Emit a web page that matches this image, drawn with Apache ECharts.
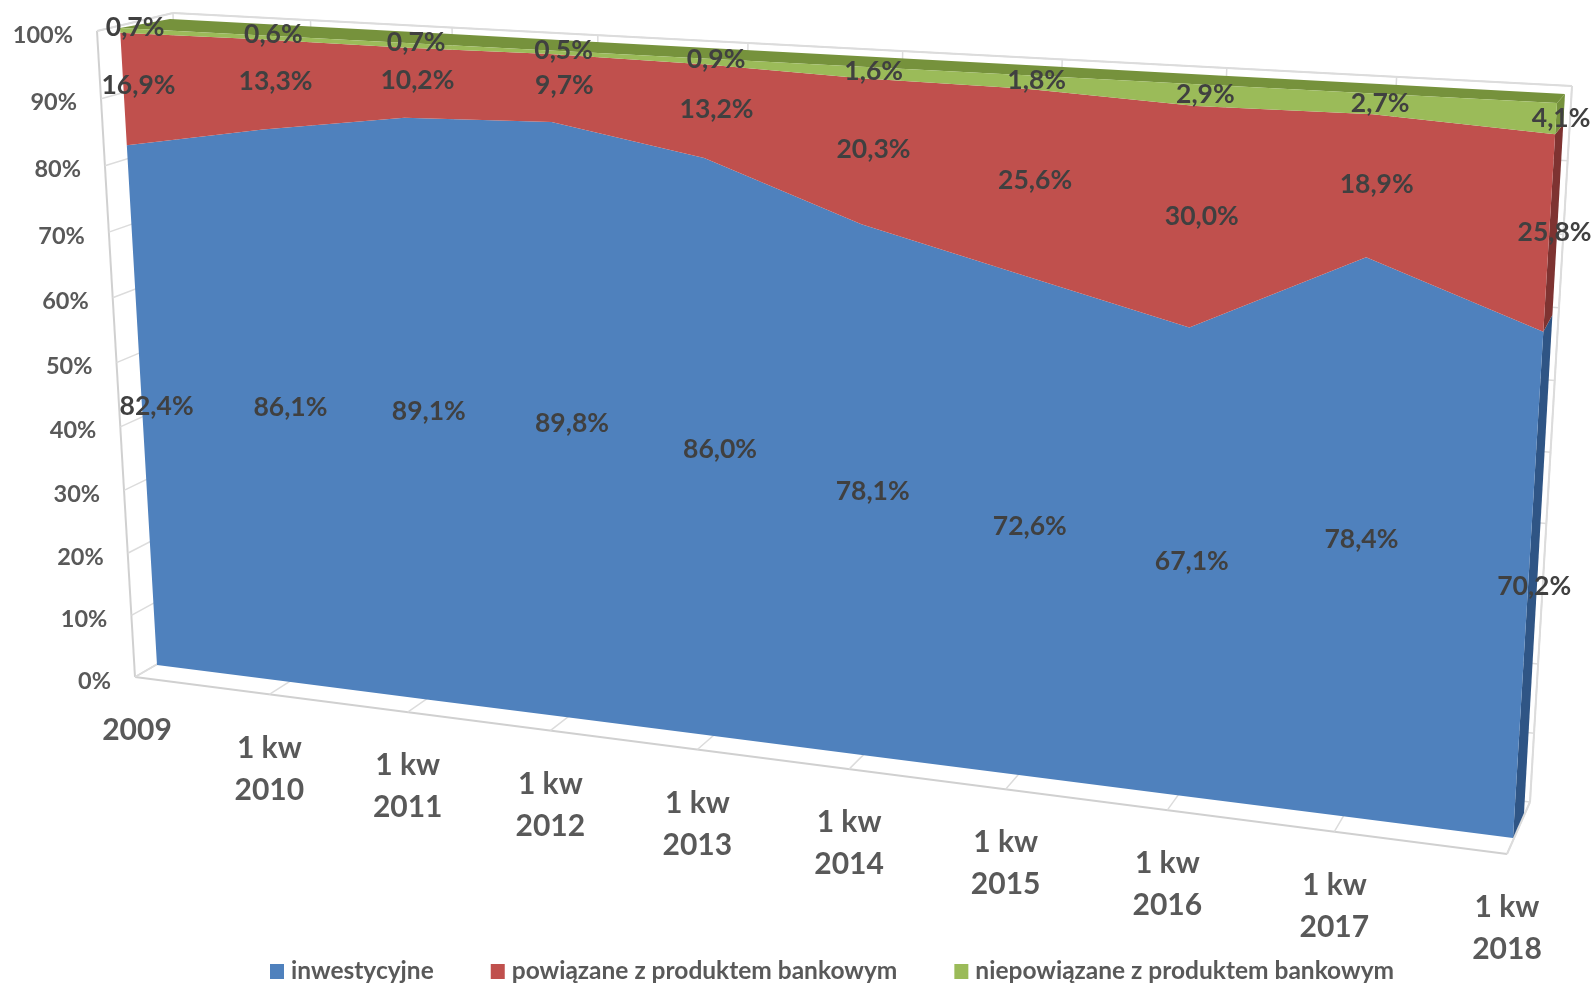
<!DOCTYPE html>
<html>
<head>
<meta charset="utf-8">
<title>Struktura</title>
<script src="https://cdn.jsdelivr.net/npm/echarts@6/dist/echarts.min.js"></script>
<style>
  html, body { margin: 0; background: #fff; }
  #chart { width: 1593px; height: 983px; }
</style>
</head>
<body>
<div id="chart"></div>
<script>
const categories = ['2009', '1 kw\n2010', '1 kw\n2011', '1 kw\n2012', '1 kw\n2013', '1 kw\n2014', '1 kw\n2015', '1 kw\n2016', '1 kw\n2017', '1 kw\n2018']
const inwestycyjne = [82.4, 86.1, 89.1, 89.8, 86.0, 78.1, 72.6, 67.1, 78.4, 70.2]
const powiazane = [16.9, 13.3, 10.2, 9.7, 13.2, 20.3, 25.6, 30.0, 18.9, 25.8]
const niepowiazane = [0.7, 0.6, 0.7, 0.5, 0.9, 1.6, 1.8, 2.9, 2.7, 4.1]
const yTicks = [0, 10, 20, 30, 40, 50, 60, 70, 80, 90, 100]

const W = 1593
const H = 983
const LABEL_FONT = 'Lato, Carlito, sans-serif'
const last = categories.length - 1

// the 3D look: each plane of the box is a perspective warp of the flat grid [TL, TR, BR, BL]
const wallFront = homography([97, 31], [1550, 115], [1507, 854], [135, 677])
const wallBack = homography([173, 13], [1572, 86], [1530, 802], [192, 644])
const areaFront = homography([120, 28], [1557, 103], [1513, 838], [157, 665])
const areaBack = homography([170, 19], [1565, 94], [1524, 813], [188, 648])
const labelPlane = homography([135, 25], [1562, 103], [1520, 832], [171, 660])

function homography(p0, p1, p2, p3) {
  const dx1 = p1[0] - p2[0], dx2 = p3[0] - p2[0], sx = p0[0] - p1[0] + p2[0] - p3[0]
  const dy1 = p1[1] - p2[1], dy2 = p3[1] - p2[1], sy = p0[1] - p1[1] + p2[1] - p3[1]
  const den = dx1 * dy2 - dx2 * dy1
  const g = (sx * dy2 - dx2 * sy) / den
  const h = (dx1 * sy - sx * dy1) / den
  const a = p1[0] - p0[0] + g * p1[0], b = p3[0] - p0[0] + h * p3[0], c = p0[0]
  const d = p1[1] - p0[1] + g * p1[1], e = p3[1] - p0[1] + h * p3[1], f = p0[1]
  return (u, v) => {
    const w = g * u + h * v + 1
    return [(a * u + b * v + c) / w, (d * u + e * v + f) / w]
  }
}

// axes scale first, then the plane warps the scaled point
function project(api, plane, i, value) {
  const p = api.coord([i, Math.min(value, 100)])
  return plane(p[0] / W, p[1] / H)
}

function line(a, b, width, color) {
  return {
    type: 'line',
    shape: { x1: a[0], y1: a[1], x2: b[0], y2: b[1] },
    style: { stroke: color || '#dcdcdc', lineWidth: width || 1.5 }
  }
}

function text(str, x, y, size, fill, align, lineHeight) {
  return {
    type: 'text',
    style: {
      text: str, x, y, fill,
      align: align || 'center',
      verticalAlign: lineHeight ? 'top' : 'middle',
      lineHeight,
      fontFamily: LABEL_FONT,
      fontWeight: 'bold',
      fontSize: size
    }
  }
}

function renderFrame(params, api) {
  const i = api.value(0)
  const children = [
    line(project(api, wallBack, i, 0), project(api, wallBack, i, 100)),
    line(project(api, wallFront, i, 0), project(api, wallBack, i, 0))
  ]
  const tick = project(api, wallFront, i, 0)
  children.push(text(categories[i], tick[0] + (i === 0 ? 2 : 0), tick[1] + 32.5, 30, '#595959', 'center', 42))
  if (i === 0) {
    children.push(line(project(api, wallFront, 0, 100), project(api, wallFront, 0, 0), 2, '#d0d0d0'))
    children.push(line(project(api, wallFront, 0, 0), project(api, wallFront, last, 0), 2, '#d0d0d0'))
    children.push(line(project(api, wallFront, 0, 100), project(api, wallBack, 0, 100), 2))
    children.push(line(project(api, wallBack, 0, 100), project(api, wallBack, last, 100), 2))
    children.push(line(project(api, wallBack, last, 100), project(api, wallBack, last, 0), 2))
    children.push(line(project(api, wallFront, last, 0), project(api, wallBack, last, 0), 2))
  }
  return { type: 'group', children }
}

function renderYTick(params, api) {
  const v = api.value(1)
  const front = project(api, wallFront, 0, v)
  return {
    type: 'group',
    children: [
      line(front, project(api, wallBack, 0, v)),
      line(project(api, wallBack, 0, v), project(api, wallBack, last, v)),
      text(v + '%', front[0] - 24, front[1] + 4, 23.5, '#595959', 'right')
    ]
  }
}

function polygon(points, fill) {
  return { type: 'polygon', shape: { points }, style: { fill } }
}

// one custom series per band; the whole band is drawn once, from its first row
function bandRenderer(lower, upper, fill, sideFill, withTop) {
  return (params, api) => {
    if (params.dataIndex !== 0) return null
    const front = []
    for (let i = 0; i <= last; i++) front.push(project(api, areaFront, i, upper[i]))
    for (let i = last; i >= 0; i--) front.push(project(api, areaFront, i, lower[i]))
    const children = [
      polygon([
        project(api, areaFront, last, lower[last]),
        project(api, areaFront, last, upper[last]),
        project(api, areaBack, last, upper[last]),
        project(api, areaBack, last, lower[last])
      ], sideFill)
    ]
    if (withTop) {
      const top = []
      for (let i = 0; i <= last; i++) top.push(project(api, areaFront, i, upper[i]))
      for (let i = last; i >= 0; i--) top.push(project(api, areaBack, i, upper[i]))
      children.push(polygon(top, sideFill))
    }
    children.push(polygon(front, fill))
    return { type: 'group', children }
  }
}

const zero = categories.map(() => 0)
const stack1 = inwestycyjne.slice()
const stack2 = stack1.map((v, i) => v + powiazane[i])
const stack3 = stack2.map((v, i) => v + niepowiazane[i])

const labelRows = []
;[[zero, inwestycyjne], [stack1, powiazane], [stack2, niepowiazane]].forEach(([base, values]) => {
  values.forEach((v, i) => labelRows.push([i, base[i] + v / 2, v.toFixed(1).replace('.', ',') + '%']))
})

function bandSeries(name, values, lower, upper, fill, sideFill, withTop) {
  return {
    name,
    type: 'custom',
    coordinateSystem: 'cartesian2d',
    itemStyle: { color: fill },
    data: values.map((v, i) => [i, v]),
    encode: { x: 0, y: 1 },
    z: 3,
    renderItem: bandRenderer(lower, upper, fill, sideFill, withTop)
  }
}

const chart = echarts.init(document.getElementById('chart'))
chart.setOption({
  animation: false,
  grid: { left: 0, top: 0, width: W, height: H },
  xAxis: { type: 'category', data: categories, boundaryGap: false, show: false },
  yAxis: { type: 'value', min: 0, max: 100, interval: 10, show: false },
  legend: {
    data: ['inwestycyjne', 'powiązane z produktem bankowym', 'niepowiązane z produktem bankowym'],
    left: 265,
    top: 954,
    itemWidth: 14,
    itemHeight: 15,
    itemGap: 57,
    icon: 'rect',
    textStyle: { fontFamily: LABEL_FONT, fontWeight: 'bold', fontSize: 24.5, color: '#595959', padding: [0, 0, 0, 2] }
  },
  series: [
    {
      type: 'custom',
      coordinateSystem: 'cartesian2d',
      data: categories.map((c, i) => [i, 0]),
      encode: { x: 0, y: 1 },
      z: 1,
      renderItem: renderFrame
    },
    {
      type: 'custom',
      coordinateSystem: 'cartesian2d',
      data: yTicks.map(v => [0, v]),
      encode: { x: 0, y: 1 },
      z: 1,
      renderItem: renderYTick
    },
    bandSeries('inwestycyjne', inwestycyjne, zero, stack1, '#4F81BD', '#2F5585', false),
    bandSeries('powiązane z produktem bankowym', powiazane, stack1, stack2, '#C0504D', '#7E3331', false),
    bandSeries('niepowiązane z produktem bankowym', niepowiazane, stack2, stack3, '#9BBB59', '#76923C', true),
    {
      type: 'custom',
      coordinateSystem: 'cartesian2d',
      data: labelRows.map(r => [r[0], r[1]]),
      encode: { x: 0, y: 1 },
      z: 5,
      renderItem: (params, api) => {
        const row = labelRows[params.dataIndex]
        const p = project(api, labelPlane, row[0], row[1])
        return text(row[2], p[0], p[1], 26.5, '#404040', 'center')
      }
    }
  ]
})
</script>
</body>
</html>
